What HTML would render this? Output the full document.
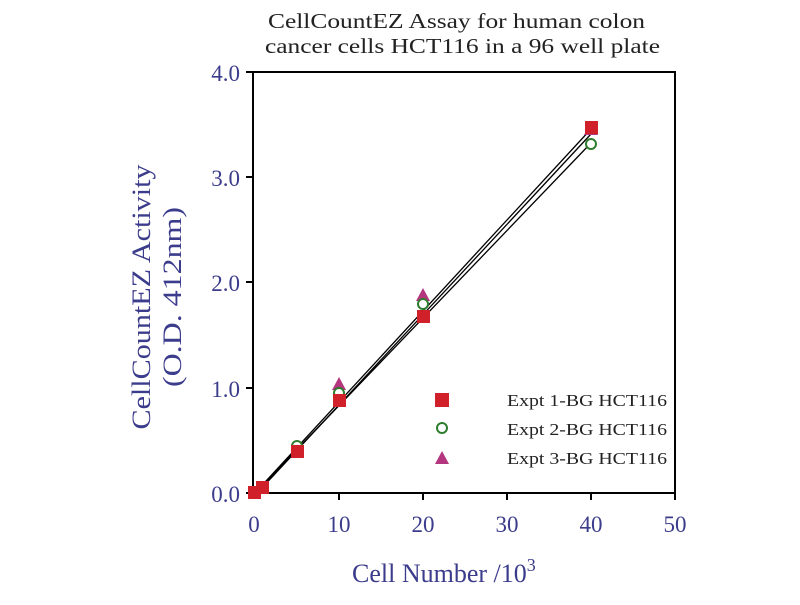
<!DOCTYPE html>
<html><head><style>body{margin:0;background:#fff}</style></head><body>
<svg width="800" height="600" xmlns="http://www.w3.org/2000/svg" font-family="Liberation Serif, serif">
<rect width="800" height="600" fill="#fff"/>
<text x="268" y="28" font-size="21" textLength="377" lengthAdjust="spacingAndGlyphs" fill="#222">CellCountEZ Assay for human colon</text>
<text x="265" y="53" font-size="21" textLength="395" lengthAdjust="spacingAndGlyphs" fill="#222">cancer cells HCT116 in a 96 well plate</text>
<rect x="253" y="72" width="422" height="421" fill="none" stroke="#000" stroke-width="2"/>
<g stroke="#000" stroke-width="2">
<line x1="246" y1="72" x2="253" y2="72"/><line x1="246" y1="177" x2="253" y2="177"/><line x1="246" y1="282" x2="253" y2="282"/><line x1="246" y1="388" x2="253" y2="388"/><line x1="246" y1="493" x2="253" y2="493"/>
<line x1="339" y1="493" x2="339" y2="500"/><line x1="423" y1="493" x2="423" y2="500"/><line x1="507" y1="493" x2="507" y2="500"/><line x1="591" y1="493" x2="591" y2="500"/><line x1="675" y1="493" x2="675" y2="500"/>
</g>
<g font-size="23" fill="#3c3c8c" text-anchor="end">
<text x="240" y="81">4.0</text><text x="240" y="186">3.0</text><text x="240" y="291">2.0</text><text x="240" y="397">1.0</text><text x="240" y="502">0.0</text>
</g>
<g font-size="23" fill="#3c3c8c" text-anchor="middle">
<text x="254" y="532">0</text><text x="339" y="532">10</text><text x="423" y="532">20</text><text x="507" y="532">30</text><text x="591" y="532">40</text><text x="675" y="532">50</text>
</g>
<text x="352" y="582" font-size="26" fill="#3c3c8c">Cell Number /10<tspan font-size="18" dy="-11">3</tspan></text>
<g transform="translate(150,297) rotate(-90)" fill="#3c3c8c" font-size="26" text-anchor="middle">
<text x="0" y="0" textLength="265" lengthAdjust="spacingAndGlyphs">CellCountEZ Activity</text><text x="0" y="31" textLength="180" lengthAdjust="spacingAndGlyphs">(O.D. 412nm)</text>
</g>
<g stroke="#000" stroke-width="1.3" fill="none">
<line x1="255" y1="493" x2="591" y2="129"/>
<line x1="257" y1="491" x2="591" y2="143"/>
<line x1="259" y1="491" x2="591" y2="134"/>
</g>
<g fill="#b3367f">
<polygon points="339,377 332,390 346,390"/><polygon points="423,288 416,301 430,301"/><polygon points="591,122 584,135 598,135"/>
</g>
<g fill="#fff" stroke="#2e7d2e" stroke-width="2">
<circle cx="297" cy="446" r="5"/><circle cx="339" cy="393" r="5"/><circle cx="423" cy="304" r="5"/><circle cx="591" cy="144" r="5"/>
</g>
<g fill="#d0202a">
<rect x="248" y="486" width="13" height="13"/><rect x="256" y="481" width="13" height="13"/><rect x="291" y="445" width="13" height="13"/><rect x="333" y="394" width="13" height="13"/><rect x="417" y="310" width="13" height="13"/><rect x="585" y="121" width="13" height="13"/>
</g>
<rect x="435" y="393" width="14" height="14" fill="#d0202a"/>
<circle cx="442" cy="428" r="5" fill="#fff" stroke="#2e7d2e" stroke-width="2"/>
<polygon points="442,451 435,464 449,464" fill="#b3367f"/>
<g font-size="17" fill="#222">
<text x="507" y="406" textLength="160" lengthAdjust="spacingAndGlyphs">Expt 1-BG HCT116</text><text x="507" y="435" textLength="160" lengthAdjust="spacingAndGlyphs">Expt 2-BG HCT116</text><text x="507" y="464" textLength="160" lengthAdjust="spacingAndGlyphs">Expt 3-BG HCT116</text>
</g>
</svg>
</body></html>
